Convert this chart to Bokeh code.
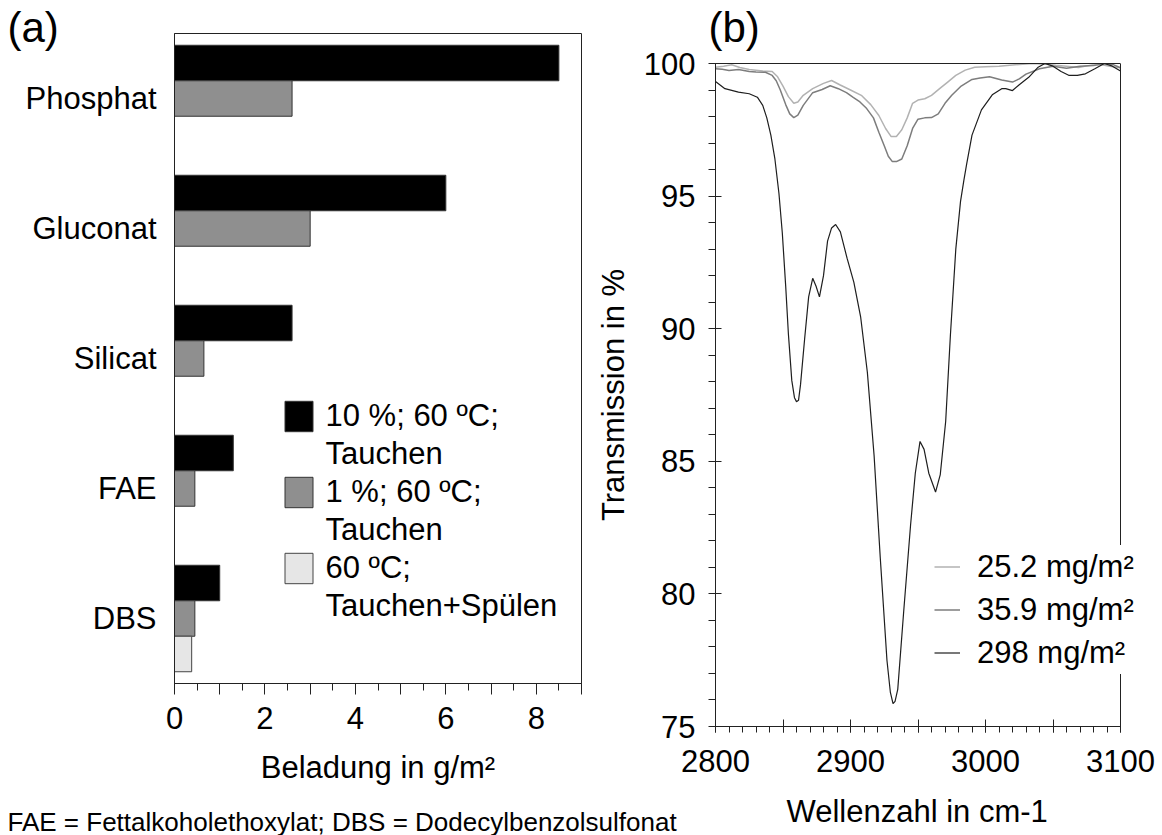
import numpy as np
from bokeh.plotting import figure
from bokeh.models import (FactorRange, Range1d, SingleIntervalTicker, FixedTicker, Legend,
                          LegendItem, Title, ColumnDataSource, LinearAxis, Span,
                          GlobalInlineStyleSheet)
from bokeh.transform import dodge
from bokeh.embed import file_html
from bokeh.resources import INLINE

FONT = "Liberation Sans"
FS = "31px"

# ---------------- data: panel (a) ----------------
categories = ["Phosphat", "Gluconat", "Silicat", "FAE", "DBS"]
load_10pct_dip = [8.5, 6.0, 2.6, 1.3, 1.0]
load_1pct_dip = [2.6, 3.0, 0.65, 0.45, 0.45]
load_dip_rinse = [np.nan, np.nan, np.nan, np.nan, 0.38]
series_a = [("10 %; 60 ºC;", "Tauchen"), ("1 %; 60 ºC;", "Tauchen"),
            ("60 ºC;", "Tauchen+Spülen")]
xlabel_a = "Beladung in g/m²"
footnote = "FAE = Fettalkoholethoxylat;  DBS = Dodecylbenzolsulfonat"

# ---------------- data: panel (b) ----------------
wn_252 = [2800, 2806, 2812, 2818, 2825, 2835, 2842, 2846, 2850, 2854, 2858, 2861, 2865,
          2872, 2880, 2886, 2892, 2900, 2908, 2915, 2921, 2926, 2930, 2934, 2938, 2942,
          2946, 2950, 2955, 2960, 2966, 2972, 2978, 2985, 2992, 3000, 3010, 3022, 3035,
          3045, 3052, 3060, 3069, 3076, 3084, 3092, 3100]
T_252 = [99.86, 99.9, 99.95, 99.85, 99.77, 99.72, 99.7, 99.5, 99.15, 98.75, 98.5, 98.55, 98.8,
         99.05, 99.25, 99.36, 99.2, 99.0, 98.8, 98.45, 98.04, 97.55, 97.25, 97.25, 97.5, 97.95,
         98.5, 98.62, 98.67, 98.8, 99.05, 99.3, 99.55, 99.75, 99.86, 99.88, 99.9, 99.95, 100.0,
         99.97, 99.93, 99.9, 99.85, 99.92, 99.97, 99.9, 99.84]

wn_359 = [2800, 2805, 2810, 2817, 2825, 2830, 2837, 2842, 2845, 2848, 2852, 2855, 2858, 2861,
          2865, 2872, 2879, 2885, 2891, 2897, 2902, 2907, 2912, 2917, 2921, 2925, 2928, 2931,
          2934, 2938, 2942, 2946, 2950, 2955, 2960, 2965, 2970, 2975, 2982, 2990, 2996, 3003,
          3012, 3020, 3025, 3030, 3040, 3050, 3060, 3070, 3080, 3089, 3095, 3100]
T_359 = [99.8, 99.78, 99.74, 99.77, 99.7, 99.68, 99.67, 99.55, 99.35, 99.0, 98.45, 98.1, 97.96,
         98.05, 98.42, 98.9, 99.02, 99.16, 99.05, 98.9, 98.72, 98.55, 98.3, 97.95, 97.41, 96.9,
         96.5, 96.3, 96.3, 96.4, 96.9, 97.55, 97.9, 97.95, 97.96, 98.1, 98.5, 98.8, 99.15, 99.4,
         99.45, 99.5, 99.38, 99.3, 99.42, 99.6, 99.8, 99.9, 99.82, 99.9, 99.92, 100.0, 99.95, 99.84]

wn_298 = [2800, 2807, 2817, 2825, 2831, 2835, 2838, 2841, 2844, 2847, 2849.5, 2852, 2854,
          2856.5, 2858.5, 2860, 2861.5, 2863, 2866, 2869, 2872, 2874.5, 2877, 2880, 2883,
          2886, 2889, 2892.5, 2897.5, 2902.5, 2907.5, 2912.5, 2917.5, 2922, 2927, 2929.5,
          2931.5, 2933, 2935, 2939.5, 2944.5, 2948, 2951.5, 2954.5, 2958, 2963, 2966.5,
          2970.5, 2974, 2978, 2981.5, 2984, 2986, 2990, 2997, 3005, 3012, 3015, 3020, 3025,
          3032, 3039, 3044, 3050, 3056, 3062, 3068, 3074, 3081, 3088, 3094, 3100]
T_298 = [99.32, 99.05, 98.92, 98.86, 98.73, 98.42, 97.95, 97.3, 96.4, 95.1, 93.6, 91.6, 89.8,
         88.05, 87.4, 87.25, 87.3, 87.9, 89.6, 91.2, 91.9, 91.6, 91.2, 92.0, 93.3,
         93.8, 93.93, 93.65, 92.65, 91.75, 90.45, 88.35, 85.2, 81.4, 77.5, 76.3,
         75.86, 75.95, 76.4, 79.4, 82.6, 84.55, 85.75, 85.45, 84.55, 83.84, 84.5,
         86.5, 89.75, 93.0, 94.8, 95.6, 96.2, 97.3, 98.25, 98.82, 99.05, 99.05, 98.98, 99.2,
         99.48, 99.86, 100.0, 99.9, 99.7, 99.55, 99.55, 99.61, 99.8, 100.0, 99.9, 99.72]
spectra_labels = ["25.2 mg/m²", "35.9 mg/m²", "298 mg/m²"]
xlabel_b = "Wellenzahl in cm-1"
ylabel_b = "Transmission in %"
wn_min, wn_max = 2800, 3100
T_min, T_max = 75, 100

AX = "#222222"


def style_axis(ax):
    ax.axis_line_color = AX
    ax.major_tick_line_color = AX
    ax.minor_tick_line_color = AX
    ax.major_label_text_font = FONT
    ax.major_label_text_font_size = FS
    ax.major_label_text_color = "black"
    ax.axis_label_text_font = FONT
    ax.axis_label_text_font_size = FS
    ax.axis_label_text_font_style = "normal"
    ax.axis_label_text_color = "black"


# ================= panel (a) =================
A_H = 860
pa = figure(width=700, height=A_H, x_range=Range1d(0, 9),
            y_range=FactorRange(factors=categories[::-1]),
            output_backend="svg", toolbar_location=None,
            min_border_left=174, min_border_right=119, min_border_top=33,
            min_border_bottom=A_H - 683)
pa.styles = {"position": "absolute", "left": "0px", "top": "0px"}
pa.stylesheets = [GlobalInlineStyleSheet(css="html, body { overflow: hidden !important; }")]
pa.border_fill_alpha = 0
pa.grid.visible = False
pa.outline_line_color = AX

src_a = ColumnDataSource(dict(cat=categories, c10=load_10pct_dip, c1=load_1pct_dip,
                              rinse=np.array(load_dip_rinse, dtype=float)))
bh = 0.273
r10 = pa.hbar(y=dodge("cat", bh, range=pa.y_range), left=0, right="c10", height=bh,
              source=src_a, fill_color="#000000", line_color="#333333", line_width=1)
r1 = pa.hbar(y=dodge("cat", 0, range=pa.y_range), left=0, right="c1", height=bh,
             source=src_a, fill_color="#8f8f8f", line_color="#333333", line_width=1)
rr = pa.hbar(y=dodge("cat", -bh, range=pa.y_range), left=0, right="rinse", height=bh,
             source=src_a, fill_color="#e6e6e6", line_color="#444444", line_width=1)
# invisible renderer used only for the second text line of each legend entry
blank = pa.hbar(y=[], right=[], height=bh, fill_alpha=0, line_alpha=0)

xa = pa.xaxis[0]
style_axis(xa)
xa.ticker = SingleIntervalTicker(interval=1, num_minor_ticks=2)
xa.major_label_overrides = {1: "", 3: "", 5: "", 7: "", 9: ""}
xa.major_tick_in = 0
xa.major_tick_out = 11
xa.minor_tick_in = 0
xa.minor_tick_out = 7
xa.major_label_standoff = 12
xa.axis_label = xlabel_a
xa.axis_label_standoff = 18

ya = pa.yaxis[0]
style_axis(ya)
ya.major_tick_out = 0
ya.major_tick_in = 0
ya.major_tick_line_color = None
ya.minor_tick_line_color = None
ya.major_label_standoff = 18

items_a = []
for (line1, line2), rend in zip(series_a, [r10, r1, rr]):
    items_a.append(LegendItem(label=line1, renderers=[rend]))
    items_a.append(LegendItem(label=line2, renderers=[blank]))
leg_a = Legend(items=items_a, location=(106.5, 58), glyph_width=35, glyph_height=38,
               label_height=38, label_standoff=10, spacing=0, padding=10, margin=0,
               label_text_font=FONT, label_text_font_size=FS, label_text_color="black",
               background_fill_alpha=0, border_line_color=None)
pa.add_layout(leg_a)

pa.title.text = "(a)"
pa.title.align = "left"
pa.title.offset = -167
pa.title.standoff = -34
pa.title.text_font = FONT
pa.title.text_font_size = "42px"
pa.title.text_font_style = "normal"
pa.title.text_color = "black"

pa.add_layout(Title(text=footnote, align="left", offset=-167, standoff=39,
                    vertical_align="top", text_font=FONT, text_font_size="26px",
                    text_font_style="normal", text_color="black"), "below")

# ================= panel (b) =================
BL = 590
B_TOP = -12
B_H = 880
FR_R = 1150                      # frame extends right so the legend is not clipped
x_end = wn_max + (FR_R - 1120) / 1.35
pb = figure(width=1162 - BL, height=B_H, x_range=Range1d(wn_min, x_end),
            y_range=Range1d(T_min, T_max),
            output_backend="svg", toolbar_location=None,
            min_border_left=715 - BL, min_border_right=1162 - FR_R,
            min_border_top=63 - B_TOP, min_border_bottom=B_H - (726 - B_TOP))
pb.styles = {"position": "absolute", "left": f"{BL}px", "top": f"{B_TOP}px"}
pb.border_fill_alpha = 0
pb.grid.visible = False
pb.outline_line_color = None

l1 = pb.line(wn_252, T_252, line_color="#b2b2b2", line_width=1.5)
l2 = pb.line(wn_359, T_359, line_color="#7d7d7d", line_width=1.5)
l3 = pb.line(wn_298, T_298, line_color="#1e1e1e", line_width=1.2)

xb = pb.xaxis[0]
style_axis(xb)
xb.bounds = (wn_min, wn_max)
xb.ticker = SingleIntervalTicker(interval=50, num_minor_ticks=5)
xb.major_label_overrides = {2850: "", 2950: "", 3050: ""}
xb.major_tick_in = 7
xb.major_tick_out = 6
xb.minor_tick_in = 0
xb.minor_tick_out = 6
xb.major_label_standoff = 17

# x-axis title, centred under the 2800..3100 axis extent
pb.add_layout(Title(text=xlabel_b, align="left", offset=71, standoff=38,
                    vertical_align="top", text_font=FONT, text_font_size=FS,
                    text_font_style="normal", text_color="black"), "below")

yb = pb.yaxis[0]
style_axis(yb)
yb.ticker = SingleIntervalTicker(interval=5, num_minor_ticks=5)
yb.major_tick_in = 6
yb.major_tick_out = 2
yb.minor_tick_in = 0
yb.minor_tick_out = 7
yb.major_label_standoff = 13
yb.axis_label = ylabel_b
yb.axis_label_standoff = 10

# top frame line (limited to the data extent) and right frame line
top_axis = LinearAxis(bounds=(wn_min, wn_max), ticker=FixedTicker(ticks=[]),
                      axis_line_color=AX, major_tick_line_color=None,
                      minor_tick_line_color=None, major_label_text_font_size="0px",
                      major_tick_in=0, major_tick_out=0, minor_tick_in=0, minor_tick_out=0,
                      major_label_standoff=0)
pb.add_layout(top_axis, "above")
pb.add_layout(Span(location=wn_max, dimension="height", line_color=AX, line_width=1))

leg_b = Legend(items=[LegendItem(label=spectra_labels[0], renderers=[l1]),
                      LegendItem(label=spectra_labels[1], renderers=[l2]),
                      LegendItem(label=spectra_labels[2], renderers=[l3])],
               location=(219, 52), glyph_width=26, glyph_height=43, label_height=43,
               label_standoff=17, spacing=0, padding=10,
               label_text_font=FONT, label_text_font_size=FS, label_text_color="black",
               background_fill_color="white", background_fill_alpha=1,
               border_line_color=None)
pb.add_layout(leg_b)

pb.title.text = "(b)"
pb.title.align = "left"
pb.title.offset = -7
pb.title.standoff = 26
pb.title.text_font = FONT
pb.title.text_font_size = "42px"
pb.title.text_font_style = "normal"
pb.title.text_color = "black"

open("out.html", "w").write(file_html([pa, pb], INLINE))
